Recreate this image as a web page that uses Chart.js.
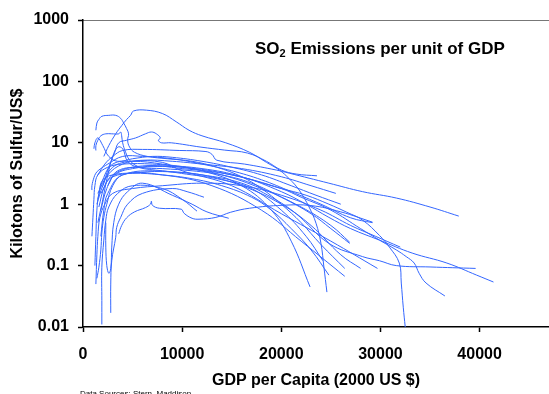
<!DOCTYPE html>
<html>
<head>
<meta charset="utf-8">
<script src="https://cdn.jsdelivr.net/npm/chart.js@4"></script>
<style>
  html, body { margin: 0; padding: 0; background: #fff; }
  #wrap { width: 549px; height: 394px; position: relative; }
</style>
</head>
<body>
<div id="wrap"><canvas id="chart"></canvas></div>
<script>
// tick labels
const xTicks = [0, 10000, 20000, 30000, 40000];
const yTicks = [0.01, 0.1, 1, 10, 100, 1000];

// one array per country trace: [GDP per capita, kt sulfur / US$]
const line01 = [[2100,6],[2600,9],[3300,14],[3900,19],[4400,24],[4800,28],[5100,33],[6400,34],[8000,30],[9400,22],[10700,16],[12000,13],[14400,10],[16800,7],[18500,4.8],[19800,3.6],[20800,2.6],[21800,1.7],[22800,0.9],[23500,0.49],[24000,0.23],[24300,0.094],[24600,0.037]];
const line02 = [[1300,16],[1400,21],[1600,24],[1900,27],[2600,28],[3300,28],[3800,25],[4100,21],[4400,17],[4600,14],[4500,11],[4700,8.5],[5200,7],[6500,6],[8500,5.5],[11000,5],[13500,4],[16000,2.8],[18000,1.8],[20000,1],[22000,0.5],[24000,0.22],[26400,0.09]];
const line03 = [[1300,7.5],[1300,9],[1500,11],[1800,13],[2300,14],[2900,14],[3600,14],[3800,15],[3900,13],[4000,10],[4300,7],[4800,5],[5800,4],[8000,3.8],[11000,3.5],[14000,3],[17000,2.2],[20000,1.3],[23000,0.7],[25000,0.4],[26900,0.23]];
const line04 = [[2000,2],[2600,4],[3200,7],[3600,10],[4400,11],[5300,12],[6300,14],[6900,15],[7400,14],[7800,12],[7600,11],[7900,10],[8900,10],[11900,8.5],[14300,7.6],[16600,6.8],[18500,5],[20000,3.6],[21500,3.1],[23600,2.9]];
const line05 = [[1500,3],[2200,4.5],[3000,6],[4000,7.5],[6000,7.8],[9700,7.5],[12400,7.2],[13000,6.5],[13500,5.2],[16300,4.5],[19500,3.6],[20800,3.2],[24800,2.2],[28200,1.6],[31600,1.26],[35000,0.9],[37900,0.64]];
const line06 = [[1500,1.5],[2500,3],[4000,4.5],[6000,5.2],[9000,5],[12000,4.5],[16000,3.8],[20000,2.8],[23000,2],[25500,1.5]];
const line07 = [[1800,0.8],[2400,1.8],[3200,3],[5000,3.8],[8000,4.2],[12000,3.8],[16000,2.8],[20000,1.6],[22500,1],[24800,0.61],[27000,0.4],[29900,0.26],[33200,0.16],[36700,0.11],[39700,0.07],[41400,0.054]];
const line08 = [[1600,0.9],[2200,2],[3000,2.8],[5000,3.2],[8000,3.4],[12000,3],[16000,2.2],[19000,1.3],[21500,0.7],[24800,0.23],[28200,0.14],[29900,0.12],[31600,0.1],[35000,0.095],[39600,0.09]];
const line09 = [[2500,2],[3500,3.5],[6000,4],[10000,4],[15000,3],[20000,1.8],[22000,1.3],[25000,0.8],[28000,0.4],[29900,0.26],[31600,0.18],[32600,0.14],[33400,0.11],[33900,0.075],[34600,0.052],[36500,0.032]];
const line10 = [[1800,1.5],[3000,3],[6000,4.2],[10000,3.8],[15000,3],[20000,1.8],[22500,1.4],[24800,1.0],[26600,0.74],[28200,0.55],[29900,0.31],[30900,0.2],[31900,0.11],[32100,0.052],[32300,0.021],[32500,0.01]];
const line11 = [[1400,1],[2000,2],[3000,4],[5000,5],[8000,4.8],[10000,3.5],[15000,2],[20000,0.7],[25000,0.25],[29700,0.09]];
const line12 = [[1800,0.3],[2100,0.8],[2500,1.5],[4000,3],[8000,3],[13000,2],[18000,0.8],[22000,0.25],[26400,0.067]];
const line13 = [[1500,1.2],[2000,2.5],[3000,4.5],[5000,5],[8000,4.5],[12000,3.5],[16000,2],[19000,0.8],[21000,0.25],[22900,0.045]];
const line14 = [[1900,0.011],[1900,0.027],[1900,0.094],[2100,0.26],[2300,0.55],[2600,0.9],[3500,1.5],[5000,2],[8000,1.8],[10000,1.2],[11500,0.77]];
const line15 = [[2800,0.017],[2800,0.05],[2900,0.12],[3300,0.29],[3400,0.42],[3800,0.61],[4500,1],[6000,1.5],[9000,1.8],[10500,1.6],[12200,1.3]];
const line16 = [[1400,0.062],[1600,0.094],[1800,0.18],[1900,0.34],[2100,0.61],[2400,1.0],[3000,2],[4000,3],[7000,3.5],[11000,3],[14000,2.5],[17000,1.8],[20000,0.8],[22500,0.3],[24200,0.12]];
const line17 = [[2300,0.5],[2300,0.2],[2400,0.1],[2600,0.075],[2800,0.09],[2900,0.2],[3100,0.5],[3600,1],[4500,1.6],[6000,2.2],[9000,1.4],[11000,1.0],[12500,0.75],[14700,0.59]];
const line18 = [[3600,0.33],[3900,0.45],[4400,0.6],[5200,0.75],[6300,0.88],[6800,1.0],[6900,1.12],[7000,0.96],[7700,0.86],[9900,0.83],[10200,0.71],[11000,0.59],[11700,0.57],[13400,0.61],[14900,0.74],[16800,0.86],[20100,0.96],[23000,0.95],[26000,0.75],[29200,0.51]];
const line19 = [[900,0.3],[1000,0.6],[1100,1.2],[1200,2],[1500,3],[2500,4],[4000,4.5],[7000,4.5],[10000,4],[14000,3],[18000,1.8],[22000,0.9],[25000,0.45],[26900,0.24]];
const line20 = [[900,1.7],[900,2],[1100,2.7],[1300,3.2],[1600,3.6],[2500,4.5],[4000,6],[6000,6],[9000,5.5],[12000,4.5],[15000,3.5],[18000,2.5],[21000,1.6],[24000,1],[27000,0.6],[29200,0.5]];
const line21 = [[1500,0.5],[2000,1.2],[2500,3],[3000,6],[3500,8.5],[4000,8],[4500,5],[5500,4],[8000,3.5],[12000,3],[16000,2],[20000,1],[23000,0.45],[26000,0.15],[28000,0.09]];
const line22 = [[1200,0.1],[1300,0.3],[1400,0.8],[1600,1.5],[2000,2.5],[3000,3],[5000,3.2],[8000,3],[11000,2.6],[14000,2],[17000,1.3],[19000,0.8],[21000,0.4],[23000,0.18],[24800,0.07]];
const line23 = [[1300,0.05],[1400,0.15],[1500,0.3],[1700,0.6],[2200,1],[3000,1.5],[5000,1.8],[8000,2],[12000,2.2],[16000,2],[20000,1.4],[24000,0.8],[27000,0.45],[29500,0.3],[32000,0.2]];
const line24 = [[1100,8],[1200,10],[1500,12],[2000,9],[2600,6],[3500,5],[5000,5.5],[7000,6],[9000,5.8],[12000,5],[15000,4],[18000,3],[21000,2],[23500,1.4],[26000,1.0]];

const traces = [line01, line02, line03, line04, line05, line06, line07, line08, line09, line10, line11, line12,
                line13, line14, line15, line16, line17, line18, line19, line20, line21, line22, line23, line24];

const fontFamily = '"Liberation Sans", Arial, sans-serif';
Chart.defaults.font.family = fontFamily;
Chart.defaults.color = '#000';

const textPlugin = {
    id: 'texts',
    afterDraw(chart) {
        const ctx = chart.ctx;
        ctx.save();
        ctx.fillStyle = '#000';
        ctx.textBaseline = 'alphabetic';
        // title with subscript
        let x = 255;
        ctx.font = 'bold 17px ' + fontFamily;
        ctx.fillText('SO', x, 54);
        x += ctx.measureText('SO').width;
        ctx.font = 'bold 11px ' + fontFamily;
        ctx.fillText('2', x, 57);
        x += ctx.measureText('2').width;
        ctx.font = 'bold 17px ' + fontFamily;
        ctx.fillText(' Emissions per unit of GDP', x, 54);
        // source note
        ctx.font = '8px ' + fontFamily;
        ctx.fillText('Data Sources: Stern, Maddison', 80, 396);
        ctx.restore();
    }
};

new Chart(document.getElementById('chart'), {
    type: 'scatter',
    data: {
        datasets: traces.map(t => ({
            data: t.map(p => ({ x: p[0], y: p[1] })),
            showLine: true,
            borderColor: 'rgb(51,102,255)',
            borderWidth: 1,
            pointRadius: 0,
            tension: 0.4,
            fill: false
        }))
    },
    options: {
        responsive: true,
        maintainAspectRatio: false,
        animation: false,
        devicePixelRatio: 1,
        layout: { padding: { top: 20, right: 0, left: 0, bottom: 0 } },
        plugins: { legend: { display: false }, tooltip: { enabled: false } },
        scales: {
            x: {
                type: 'linear',
                position: 'bottom',
                min: 0,
                max: 47000,
                afterBuildTicks: s => { s.ticks = xTicks.map(v => ({ value: v })); },
                afterFit: s => { s.height = 67; },
                ticks: { font: { size: 16, weight: 'bold' }, color: '#000', padding: 13, maxRotation: 0,
                         callback: v => String(v) },
                grid: { drawOnChartArea: false, drawTicks: true, tickLength: 5, tickWidth: 1.5, color: '#000' },
                border: { color: '#000', width: 1.5 },
                title: { display: true, text: 'GDP per Capita (2000 US $)', color: '#000',
                         font: { size: 16, weight: 'bold' }, padding: { top: 0, bottom: 4 } }
            },
            xTop: {
                type: 'linear',
                position: 'top',
                min: 0,
                max: 47000,
                afterFit: s => { s.height = 0; },
                ticks: { display: false },
                grid: { display: false },
                border: { color: '#777', width: 1 }
            },
            y: {
                type: 'logarithmic',
                min: 0.01,
                max: 1000,
                afterBuildTicks: s => { s.ticks = yTicks.map(v => ({ value: v })); },
                afterFit: s => { s.width = 83; },
                ticks: { font: { size: 16, weight: 'bold' }, color: '#000', padding: 9,
                         callback: v => String(v) },
                grid: { drawOnChartArea: false, drawTicks: true, tickLength: 5, tickWidth: 1.5, color: '#000' },
                border: { color: '#000', width: 1.5 },
                title: { display: true, text: 'Kilotons of Sulfur/US$', color: '#000',
                         font: { size: 16, weight: 'bold' }, padding: { top: 8, bottom: 0 } }
            }
        }
    },
    plugins: [textPlugin]
});
</script>
</body>
</html>
